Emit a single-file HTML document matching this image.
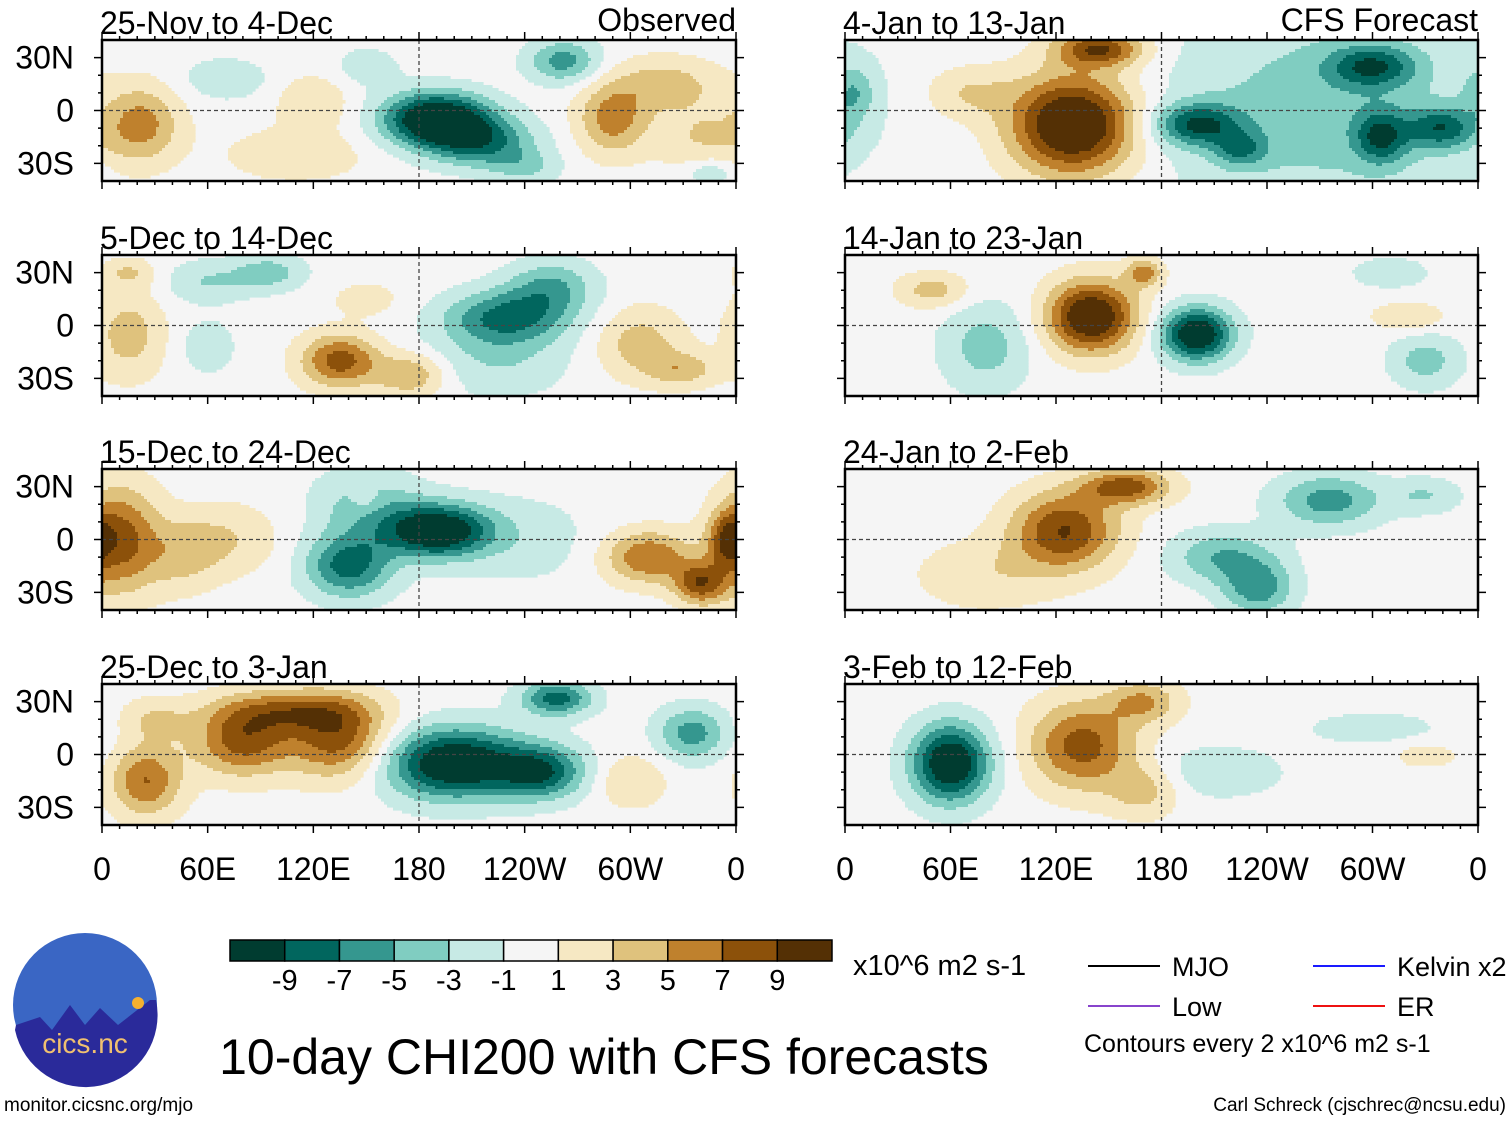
<!DOCTYPE html>
<html><head><meta charset="utf-8">
<style>
body{margin:0;background:#fff;}
svg text{font-family:"Liberation Sans",sans-serif;fill:#000;}
</style></head>
<body>
<svg id="fig" width="1510" height="1121" viewBox="0 0 1510 1121" xmlns="http://www.w3.org/2000/svg"></svg>
<script>
// ---- data ----
const panelTitles = ["25-Nov to 4-Dec","5-Dec to 14-Dec","15-Dec to 24-Dec","25-Dec to 3-Jan","4-Jan to 13-Jan","14-Jan to 23-Jan","24-Jan to 2-Feb","3-Feb to 12-Feb"];
const latTicks = ["30N","0","30S"];
const latTickVals = [30,0,-30];
const lonTicks = ["0","60E","120E","180","120W","60W","0"];
const lonTickVals = [0,60,120,180,240,300,360];
const cbarLabels = ["-9","-7","-5","-3","-1","1","3","5","7","9"];
const cbarColors = ["#003c30","#01665e","#35978f","#80cdc1","#c7eae5","#f5f5f5","#f6e8c3","#dfc27d","#bf812d","#8c510a","#543005"];
// anomaly centres per panel: [lon, lat, lonSpread, latSpread, amplitude]
const blobs0 = [[22,-8,22,22,6],[110,-25,40,15,2.5],[120,5,20,15,3],[70,18,25,12,-2.5],[190,-5,30,15,-13],[215,-18,30,14,-7],[240,-32,20,10,-3],[150,25,20,12,-2],[262,28,20,12,-6],[290,-5,20,20,6],[320,15,30,15,4],[340,-15,25,20,3],[345,-35,15,8,-3]];
const blobs1 = [[15,-5,20,25,4],[15,30,15,8,3],[60,25,25,12,-3],[95,30,20,10,-4],[60,-12,15,15,-2.5],[135,-20,22,15,8],[175,-28,20,12,5],[150,15,20,10,2],[230,5,35,15,-7],[255,22,25,15,-5],[225,-18,40,22,-3],[305,-10,25,20,4],[330,-25,20,10,4]];
const blobs2 = [[10,0,22,30,8],[45,-10,20,20,3],[70,0,30,20,3],[140,-15,25,18,-8],[190,5,30,15,-12],[150,20,30,20,-4],[150,22,10,8,2],[310,-10,25,15,7],[340,-25,15,12,8],[355,0,10,15,6],[240,0,40,25,-2]];
const blobs3 = [[25,-15,20,20,7],[30,20,20,12,3],[80,8,28,20,8],[135,8,28,22,8],[110,25,40,12,6],[200,-5,40,20,-12],[250,-10,25,15,-8],[258,32,20,10,-8],[335,12,20,15,-6],[300,-15,20,15,3]];
const blobs4 = [[270,0,90,60,-4],[5,10,12,15,-4],[70,10,25,15,3],[130,-8,35,28,13],[145,35,25,10,9],[200,-8,25,12,-8],[225,-22,15,10,-5],[300,25,25,12,-7],[305,-15,15,15,-7],[340,-10,20,12,-7]];
const blobs5 = [[140,5,25,20,12],[170,30,10,8,6],[50,20,20,10,4],[200,-5,20,15,-12],[80,-12,25,25,-4],[330,-20,20,15,-4],[310,30,20,8,-3],[320,5,20,8,3]];
const blobs6 = [[125,5,30,22,9],[160,30,25,10,8],[80,-20,40,20,2.5],[215,-10,30,15,-5],[235,-28,20,15,-6],[275,22,30,15,-6],[330,25,20,10,-3]];
const blobs7 = [[60,-5,22,22,-12],[135,5,30,25,8],[170,30,20,12,5],[170,-20,20,15,4],[210,-10,40,15,-2.5],[300,15,40,10,-2],[330,0,20,8,2]];
const panelBlobs = [blobs0,blobs1,blobs2,blobs3,blobs4,blobs5,blobs6,blobs7];
const legendItems = [["MJO","#000"],["Kelvin x2","#1a1aff"],["Low","#8844cc"],["ER","#ee1111"]];

// ---- layout ----
const NS="http://www.w3.org/2000/svg";
const svg=document.getElementById('fig');
function el(tag,attrs,parent){const e=document.createElementNS(NS,tag);for(const k in attrs)e.setAttribute(k,attrs[k]);(parent||svg).appendChild(e);return e;}
const colX=[[102,736],[845,1478]];
const rowY=[40,255,469,684];
const PH=141;
function levelIndex(v){return Math.max(0,Math.min(10,Math.floor((v+1)/2)+5));}
function field(bl,lon,lat){
  let s=0;
  for(const b of bl){
    let dx=Math.abs(lon-b[0]); if(dx>180)dx=360-dx;
    const dy=lat-b[1];
    s+=b[4]*Math.exp(-(dx*dx)/(b[2]*b[2])-(dy*dy)/(b[3]*b[3]));
  }
  return s;
}
const CS=3;
panelTitles.forEach((t,p)=>{
  const c=p<4?0:1, r=p%4;
  const x0=colX[c][0], x1=colX[c][1], y0=rowY[r], W=x1-x0;
  const xs=lon=>x0+lon/360*W;
  const ys=lat=>y0+PH/2-lat/40*(PH/2);
  const g=el('g',{});
  
  
  el('rect',{x:x0,y:y0,width:W,height:PH,fill:'#f5f5f5'},g);
  for(let py=0;py<PH;py+=CS){
    const lat=(PH/2-(py+CS/2))/(PH/2)*40;
    let runStart=0, runIdx=-1;
    const flush=(end)=>{
      if(runIdx>=0&&runIdx!==5){
        const rc=el('rect',{x:x0+runStart,y:y0+py,width:end-runStart+0.6,height:Math.min(CS,PH-py)+0.6,fill:cbarColors[runIdx]},g);
        
        
      }
    };
    for(let px=0;px<W;px+=CS){
      const lon=(px+CS/2)/W*360;
      const idx=levelIndex(field(panelBlobs[p],lon,lat));
      if(idx!==runIdx){flush(px);runStart=px;runIdx=idx;}
    }
    flush(W);
  }
  el('line',{x1:x0,x2:x1,y1:ys(0),y2:ys(0),stroke:'#444','stroke-width':1.3,'stroke-dasharray':'4,3'},g);
  el('line',{x1:xs(180),x2:xs(180),y1:y0,y2:y0+PH,stroke:'#444','stroke-width':1.3,'stroke-dasharray':'4,3'},g);
  el('rect',{x:x0,y:y0,width:W,height:PH,fill:'none',stroke:'#000','stroke-width':2.5});
  for(let lon=0;lon<=360;lon+=10){const L=lon%60==0?8:4;
    el('line',{x1:xs(lon),x2:xs(lon),y1:y0,y2:y0-L,stroke:'#000','stroke-width':1.5});
    el('line',{x1:xs(lon),x2:xs(lon),y1:y0+PH,y2:y0+PH+L,stroke:'#000','stroke-width':1.5});}
  for(let lat=-30;lat<=30;lat+=10){const L=lat%30==0?8:4;
    el('line',{x1:x0,x2:x0-L,y1:ys(lat),y2:ys(lat),stroke:'#000','stroke-width':1.5});
    el('line',{x1:x1,x2:x1+L,y1:ys(lat),y2:ys(lat),stroke:'#000','stroke-width':1.5});}
  const tt=el('text',{x:x0-2,y:y0-6,'font-size':32});tt.textContent=t;
  
  
  if(c==0){latTicks.forEach((lb,i)=>{const tx=el('text',{x:74,y:ys(latTickVals[i])+11,'font-size':32,'text-anchor':'end'});tx.textContent=lb;
    
    });}
  if(r==3){lonTicks.forEach((lb,i)=>{const tx=el('text',{x:xs(lonTickVals[i]),y:880,'font-size':32,'text-anchor':'middle'});tx.textContent=lb;
    
    });}
});
const o=el('text',{x:736,y:31,'font-size':32,'text-anchor':'end'});o.textContent='Observed';

const f=el('text',{x:1478,y:31,'font-size':32,'text-anchor':'end'});f.textContent='CFS Forecast';


// colorbar
const cbX=230,cbW=602/11;
cbarColors.forEach((col,i)=>{const r=el('rect',{x:cbX+i*cbW,y:940,width:cbW,height:21,fill:col,stroke:'#000','stroke-width':1.5});
  });
cbarLabels.forEach((lb,i)=>{const t=el('text',{x:cbX+(i+1)*cbW,y:990,'font-size':29,'text-anchor':'middle'});t.textContent=lb;
  });
const u=el('text',{x:853,y:975,'font-size':29});u.textContent='x10^6 m2 s-1';


// legend
const lp=[[1088,966],[1313,966],[1088,1006],[1313,1006]];
legendItems.forEach((it,i)=>{const [x,y]=lp[i];
  el('line',{x1:x,x2:x+72,y1:y,y2:y,stroke:it[1],'stroke-width':2});
  const t=el('text',{x:x+84,y:y+10,'font-size':27});t.textContent=it[0];
  });
const ce=el('text',{x:1084,y:1052,'font-size':25});ce.textContent='Contours every 2 x10^6 m2 s-1';


const ti=el('text',{x:604,y:1074,'font-size':50,'text-anchor':'middle'});ti.textContent='10-day CHI200 with CFS forecasts';

const m=el('text',{x:4,y:1111,'font-size':19});m.textContent='monitor.cicsnc.org/mjo';

const a=el('text',{x:1506,y:1111,'font-size':19,'text-anchor':'end'});a.textContent='Carl Schreck (cjschrec@ncsu.edu)';


// logo
const lg=el('g',{});

el('circle',{cx:85,cy:1005,r:72,fill:'#3a66c4'},lg);
el('path',{d:'M16,1025 L40,1017 L52,1030 L70,1005 L85,1025 L100,1008 L118,1025 L150,1000 L156,1000 A72,72 0 0 1 15,1030 Z',fill:'#2a2a9a'},lg);
el('circle',{cx:138,cy:1003,r:6,fill:'#f5b030'},lg);
const lt=el('text',{x:85,y:1053,'font-size':28,'text-anchor':'middle',style:'fill:#f0c070'},lg);lt.textContent='cics.nc';
</script>
</body></html>
